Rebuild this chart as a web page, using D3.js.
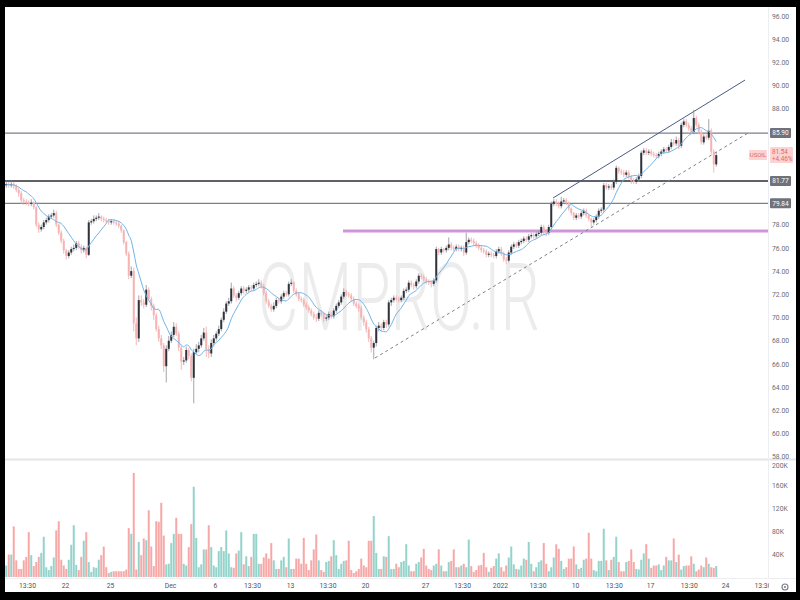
<!DOCTYPE html>
<html><head><meta charset="utf-8">
<script src="https://cdnjs.cloudflare.com/ajax/libs/d3/7.8.5/d3.min.js"></script>
<style>html,body{margin:0;padding:0;background:#000;}svg{display:block;}</style>
</head><body>
<svg id="c" width="800" height="600"></svg>
<script>
// ---- DATA (4H candles, USOIL, Nov 16 2021 -> Jan 21 2022) ----
const opens = [
81.4,81.5,81.4,81.5,81.3,81.0, 80.7,80.1,80.0,79.9,79.8,79.9, 79.5,78.0,77.6,77.8,78.2,78.4, 78.7,78.8,79.0,78.0,77.3,76.6,
75.8,75.3,75.6,75.9,76.0,76.4, 76.1,75.8,76.0,75.4,78.2,78.3, 78.5,78.6,78.7,78.5,78.4,78.3, 78.2,78.3,78.2,78.1,77.9,77.5,
76.5,75.5,73.6,74.0,69.5,68.2, 71.5,71.3,71.1,72.4,71.6,71.0, 70.2,69.0,68.2,67.6,65.8,67.3, 68.0,68.5,69.2,68.6,67.4,66.2,
66.3,67.2,66.7,64.8,67.0,67.3, 67.6,68.2,68.7,67.3,66.9,67.8, 68.2,68.6,69.0,69.8,70.5,71.2, 71.4,72.5,71.9,71.7,72.1,72.5,
72.3,72.4,72.6,72.5,72.8,72.9, 73.0,72.7,72.1,71.4,71.0,70.7, 71.0,71.5,71.4,71.8,72.1,72.0, 72.9,73.0,72.3,72.0,71.6,71.5,
71.1,70.9,70.6,70.3,70.0,69.9, 70.4,70.3,69.9,70.0,70.3,70.1, 70.6,71.0,71.3,71.8,72.2,72.0, 71.9,71.6,71.2,71.0,70.8,70.0,
69.6,69.0,68.2,67.4,67.8,69.1, 69.3,69.1,69.6,69.4,71.3,71.5, 71.7,71.6,71.5,71.7,72.3,72.4, 73.0,72.8,72.7,73.1,73.6,73.5,
73.3,73.1,73.0,72.9,73.2,75.9, 75.6,75.9,75.8,76.0,76.3,76.0, 75.9,76.1,75.9,76.0,75.6,76.5, 76.7,76.6,76.4,76.2,76.0,75.8,
75.7,75.4,75.5,75.4,75.3,75.7, 75.9,75.5,75.0,74.9,75.6,76.1, 76.3,76.2,76.5,76.6,76.8,76.7, 77.0,77.1,77.0,77.2,77.3,77.8,
77.4,77.3,77.8,79.8,80.0,79.8, 79.6,80.0,80.1,79.9,79.4,79.0, 78.6,78.8,78.7,79.0,79.2,78.8, 78.5,78.2,78.4,78.7,79.2,79.3,
81.4,81.2,81.3,81.2,81.7,82.9, 82.6,82.5,82.3,82.5,82.1,81.8, 81.7,81.9,82.2,84.2,84.4,84.2, 84.3,84.1,84.0,83.9,84.1,84.3,
84.5,84.4,84.7,85.1,85.0,85.3, 84.8,86.6,86.9,86.6,86.3,86.0, 87.2,86.6,86.0,85.1,85.6,85.5, 86.1,84.3,83.2];
const highs = [
81.8,81.7,81.8,81.7,81.5,81.2, 80.9,80.3,80.2,80.1,80.2,80.0, 79.6,78.2,78.0,78.4,78.6,78.9, 79.0,79.3,79.2,78.1,77.5,76.8,
75.9,75.8,76.1,76.3,76.6,76.6, 76.3,76.2,76.1,78.4,78.5,78.8, 78.8,79.0,78.8,78.7,78.6,78.5, 78.5,78.5,78.4,78.3,78.0,77.6,
76.6,75.7,74.4,74.3,70.0,71.9, 71.9,71.6,72.8,72.6,71.8,71.2, 70.4,69.3,68.5,67.8,67.6,68.4, 68.8,69.6,69.5,68.8,67.6,66.6,
67.5,67.4,66.9,67.3,67.7,67.9, 68.5,69.1,69.2,67.6,68.1,68.5, 68.8,69.3,70.0,70.8,71.4,71.7, 73.0,72.7,72.1,72.3,72.7,72.7,
72.6,72.8,72.8,73.0,73.1,73.3, 73.2,72.9,72.3,71.6,71.2,71.3, 71.7,71.7,72.0,72.3,72.3,73.1, 73.3,73.1,72.5,72.2,71.8,71.7,
71.3,71.1,70.8,70.5,70.3,70.6, 70.6,70.5,70.2,70.5,70.5,70.8, 71.2,71.5,72.0,72.5,72.4,72.2, 72.1,71.8,71.4,71.2,71.0,70.2,
69.8,69.2,68.4,68.0,69.3,69.6, 69.5,69.8,69.8,71.5,71.7,71.9, 71.9,71.8,71.9,72.5,72.6,73.2, 73.2,73.0,73.3,73.8,73.8,73.7,
73.5,73.3,73.2,73.4,76.1,76.0, 76.1,76.0,76.2,76.9,76.5,76.2, 76.3,76.3,76.2,76.2,77.3,76.9, 76.9,76.8,76.6,76.4,76.2,76.0,
75.9,75.7,75.7,75.6,75.9,76.1, 76.1,75.7,75.2,75.8,76.3,76.5, 76.5,76.7,76.8,77.0,77.0,77.2, 77.3,77.3,77.4,77.5,78.0,78.0,
77.6,78.0,80.0,80.2,80.2,80.0, 80.4,80.3,80.3,80.0,79.5,79.1, 79.0,79.0,79.2,79.4,79.4,78.9, 78.6,78.6,78.9,79.4,79.5,81.6,
81.6,81.5,81.5,81.9,83.1,83.0, 82.8,82.7,82.7,82.7,82.3,82.0, 82.1,82.4,84.4,84.6,84.6,84.5, 84.5,84.3,84.2,84.3,84.5,84.7,
84.7,84.9,85.4,85.4,85.6,85.5, 86.8,87.1,87.1,86.8,86.5,87.9, 87.4,86.8,86.2,85.8,85.8,87.1, 86.3,84.5,84.3];
const lows = [
81.2,81.2,81.2,81.1,80.8,80.4, 79.8,79.7,79.7,79.6,79.6,79.3, 77.8,77.3,77.4,77.6,78.0,78.2, 78.5,78.6,77.8,77.1,76.4,75.5,
75.0,75.1,75.4,75.7,75.8,75.9, 75.5,75.6,75.1,75.3,78.0,78.1, 78.3,78.4,78.3,78.2,78.1,78.0, 78.0,78.0,77.9,77.7,77.3,76.3,
75.3,73.3,73.4,68.8,67.6,67.9, 71.0,70.8,70.9,71.4,70.6,69.8, 68.8,67.9,67.3,65.3,64.4,67.1, 67.8,68.3,68.4,67.1,65.5,65.9,
66.1,66.4,64.5,62.6,66.8,67.0, 67.4,68.0,66.6,66.5,66.6,67.5, 68.0,68.4,68.8,69.6,70.3,71.0, 71.2,71.7,71.4,71.5,71.9,72.0,
72.1,72.2,72.3,72.3,72.6,72.7, 72.5,71.9,71.2,70.8,70.5,70.5, 70.8,71.2,71.2,71.6,71.8,71.8, 72.7,72.1,71.8,71.4,71.3,70.9,
70.7,70.4,70.1,69.8,69.6,69.7, 70.1,69.6,69.7,69.8,69.9,69.9, 70.4,70.8,71.1,71.6,71.8,71.7, 71.4,71.0,70.8,70.5,69.8,69.3,
68.7,67.9,67.0,66.4,67.5,68.8, 68.8,68.9,69.1,69.2,71.0,71.3, 71.4,71.3,71.3,71.5,72.1,72.2, 72.6,72.4,72.5,72.9,73.3,73.1,
72.9,72.8,72.6,72.7,73.0,75.4, 75.4,75.6,75.6,75.8,75.8,75.7, 75.7,75.7,75.7,75.3,75.4,76.3, 76.4,76.2,76.0,75.8,75.6,75.5,
75.2,75.2,75.2,75.1,75.1,75.5, 75.3,74.8,74.6,74.7,75.4,75.9, 76.0,76.0,76.3,76.4,76.5,76.5, 76.8,76.8,76.8,77.0,77.1,77.1,
77.0,77.1,77.6,79.6,79.6,79.4, 79.4,79.8,79.7,79.2,78.8,78.4, 78.4,78.5,78.5,78.8,78.6,78.3, 77.8,78.0,78.2,78.5,79.0,79.1,
81.0,81.0,81.0,81.0,81.5,82.4, 82.3,82.1,82.1,81.9,81.5,81.5, 81.5,81.7,82.0,84.0,84.0,84.0, 83.9,83.8,83.7,83.7,83.9,84.1,
84.2,84.2,84.5,84.8,84.8,84.5, 84.6,86.4,86.4,86.1,85.8,85.8, 86.4,85.8,84.9,84.9,85.3,85.3, 84.1,82.5,83.0];
const closes = [
81.5,81.4,81.5,81.3,81.0,80.7, 80.1,80.0,79.9,79.8,79.9,79.5, 78.0,77.6,77.8,78.2,78.4,78.7, 78.8,79.0,78.0,77.3,76.6,75.8,
75.3,75.6,75.9,76.0,76.4,76.1, 75.8,76.0,75.4,78.2,78.3,78.5, 78.6,78.7,78.5,78.4,78.3,78.2, 78.3,78.2,78.1,77.9,77.5,76.5,
75.5,73.6,74.0,69.5,68.2,71.5, 71.3,71.1,72.4,71.6,71.0,70.2, 69.0,68.2,67.6,65.8,67.3,68.0, 68.5,69.2,68.6,67.4,66.2,66.3,
67.2,66.7,64.8,67.0,67.3,67.6, 68.2,68.7,67.3,66.9,67.8,68.2, 68.6,69.0,69.8,70.5,71.2,71.4, 72.5,71.9,71.7,72.1,72.5,72.3,
72.4,72.6,72.5,72.8,72.9,73.0, 72.7,72.1,71.4,71.0,70.7,71.0, 71.5,71.4,71.8,72.1,72.0,72.9, 73.0,72.3,72.0,71.6,71.5,71.1,
70.9,70.6,70.3,70.0,69.9,70.4, 70.3,69.9,70.0,70.3,70.1,70.6, 71.0,71.3,71.8,72.2,72.0,71.9, 71.6,71.2,71.0,70.8,70.0,69.6,
69.0,68.2,67.4,67.8,69.1,69.3, 69.1,69.6,69.4,71.3,71.5,71.7, 71.6,71.5,71.7,72.3,72.4,73.0, 72.8,72.7,73.1,73.6,73.5,73.3,
73.1,73.0,72.9,73.2,75.9,75.6, 75.9,75.8,76.0,76.3,76.0,75.9, 76.1,75.9,76.0,75.6,76.5,76.7, 76.6,76.4,76.2,76.0,75.8,75.7,
75.4,75.5,75.4,75.3,75.7,75.9, 75.5,75.0,74.9,75.6,76.1,76.3, 76.2,76.5,76.6,76.8,76.7,77.0, 77.1,77.0,77.2,77.3,77.8,77.4,
77.3,77.8,79.8,80.0,79.8,79.6, 80.0,80.1,79.9,79.4,79.0,78.6, 78.8,78.7,79.0,79.2,78.8,78.5, 78.2,78.4,78.7,79.2,79.3,81.4,
81.2,81.3,81.2,81.7,82.9,82.6, 82.5,82.3,82.5,82.1,81.8,81.7, 81.9,82.2,84.2,84.4,84.2,84.3, 84.1,84.0,83.9,84.1,84.3,84.5,
84.4,84.7,85.1,85.0,85.3,84.8, 86.6,86.9,86.6,86.3,86.0,87.2, 86.6,86.0,85.1,85.6,85.5,86.1, 84.3,83.2,84.0];
// volume in thousands
const volumes = [
20,39,39,88,29,14,14,29,35, 78,38,19,26,35,42,70,17,12, 19,34,81,97,30,20,14,30,56,90, 21,12,35,63,78,26,9,17,16,
30,38,53,17,7,9,10,10,10,10,10, 13,85,75,181,13,61,38,67,64,116, 53,19,97,96,129,72,22,23,59, 75,103,75,75,23,20,52,92,157,68,
17,22,48,48,90,52,20,17,45, 52,45,81,41,17,16,41,46,78,22, 36,19,35,75,75,23,23,34,41, 32,59,29,14,14,29,35,17,67,14,
14,32,32,23,68,23,12,29, 48,74,29,12,9,26,28,36,64,38, 14,23,28,29,63,12,7,10,14, 32,20,17,63,63,106,42,14, 14,36,35,71,14,14,23,17,
26,28,57,20,10,10,23,26,34,49, 20,14,12,20,23,48,20,10,10,26, 28,48,17,17,20,23,17,65,19, 9,12,20,21,42,17,9,16,19,32,
41,17,10,20,34,53,22,14,13, 20,32,30,61,23,10,17,26,29,59, 23,10,17,34,57,49,28,14,17,32, 32,53,22,14,16,30,32,77,32,12,
10,28,28,84,29,12,30,35,70, 26,10,10,26,28,48,26,14,13,30, 41,57,32,16,20,20,22,12,20, 35,29,29,67,26,39,13,19,20,20,
36,23,10,13,20,17,34,23,17,16,19];
const priceTicks = [58,60,62,64,66,68,70,72,74,76,78,80,82,84,86,88,90,92,94,96];
const volumeTicks = [40,80,120,160,200];
const timeLabels = ["13:30","22","25","Dec","6","13:30","13","13:30","20","27","13:30","2022","13:30","10","13:30","17","13:30","24","13:30"];
const timeTickBars = [8.8,24,42,66,84,98.8,114,129,144,168,182.8,198,213,228,243.5,258,273.5,288,303];
const levelPrices = [85.90, 81.77, 79.84];
const levelLabels = ["85.90","81.77","79.84"];
const supportPrice = 77.46, supportStartBar = 134.7;
const upperChannel = [[218.7, 80.3],[295.5, 90.47]];
const lowerChannel = [[147.5, 66.51],[296.7, 85.9]];
const lastPriceText = ["81.54","+4.46%"];
const symbolName = "USOIL";
const watermarkText = "CMPRO.IR";
const maPeriod = 9;

// ---- LAYOUT ----
const svg = d3.select("#c");
const L = 5, R = 768, PT = 7, PB = 458, VT = 461, VB = 578;
const FONT = "Roboto, 'Noto Sans', sans-serif";
svg.append("rect").attr("width",800).attr("height",600).attr("fill","#000");
svg.append("rect").attr("x",5).attr("y",7).attr("width",791).attr("height",585).attr("fill","#fff");

const x = d3.scaleLinear().domain([-0.5, 304.3]).range([L, 767]);
const yP = d3.scaleLinear().domain([58, 96]).range([456.7, 15.9]);
const yV = d3.scaleLinear().domain([0, 200]).range([577, 462]);

const defs = svg.append("defs");
defs.append("clipPath").attr("id","cp").append("rect").attr("x",L).attr("y",PT).attr("width",R-L).attr("height",PB-PT);
defs.append("clipPath").attr("id","cv").append("rect").attr("x",L).attr("y",VT).attr("width",R-L).attr("height",VB-VT);
defs.append("clipPath").attr("id","cva").append("rect").attr("x",R).attr("y",VT).attr("width",30).attr("height",VB-VT);
defs.append("clipPath").attr("id","ct").append("rect").attr("x",L).attr("y",VB).attr("width",R+1-L).attr("height",14);

// watermark
svg.append("text").attr("x",399).attr("y",330).attr("text-anchor","middle")
  .attr("font-family",FONT).attr("font-weight",300).attr("font-size",95)
  .attr("textLength",282).attr("lengthAdjust","spacingAndGlyphs")
  .attr("fill","#ececec").text(watermarkText);

// separators
svg.append("line").attr("x1",L).attr("x2",796).attr("y1",459.5).attr("y2",459.5).attr("stroke","#e3e5ea").attr("stroke-width",2);
svg.append("line").attr("x1",R+0.5).attr("x2",R+0.5).attr("y1",PT).attr("y2",VB).attr("stroke","#eceef2").attr("stroke-width",1);
svg.append("line").attr("x1",L).attr("x2",796).attr("y1",VB+0.5).attr("y2",VB+0.5).attr("stroke","#eceef2").attr("stroke-width",1);

const gP = svg.append("g").attr("clip-path","url(#cp)");

// horizontal levels
gP.selectAll("line.lvl").data(levelPrices).join("line").attr("class","lvl")
  .attr("x1",L).attr("x2",R).attr("y1",d=>yP(d)).attr("y2",d=>yP(d))
  .attr("stroke",(d,i)=> i===1 ? "#5f626b" : "#7d8089").attr("stroke-width",(d,i)=> i===1 ? 2 : 1.3);
gP.append("line").attr("x1",x(supportStartBar)).attr("x2",R).attr("y1",yP(supportPrice)).attr("y2",yP(supportPrice))
  .attr("stroke","#cf96da").attr("stroke-width",3);

// channel lines
gP.append("line").attr("x1",x(upperChannel[0][0])).attr("y1",yP(upperChannel[0][1]))
  .attr("x2",x(upperChannel[1][0])).attr("y2",yP(upperChannel[1][1])).attr("stroke","#4b5a86").attr("stroke-width",1);
gP.append("line").attr("x1",x(lowerChannel[0][0])).attr("y1",yP(lowerChannel[0][1]))
  .attr("x2",x(lowerChannel[1][0])).attr("y2",yP(lowerChannel[1][1])).attr("stroke","#7d818d").attr("stroke-width",1).attr("stroke-dasharray","3,3");

// candles
const idx = d3.range(closes.length);
const up = i => closes[i] >= opens[i];
gP.selectAll("line.wick").data(idx).join("line").attr("class","wick")
  .attr("x1",i=>x(i)).attr("x2",i=>x(i)).attr("y1",i=>yP(highs[i])).attr("y2",i=>yP(lows[i]))
  .attr("stroke",i=> up(i) ? "#8c8f98" : "#f2a3a3").attr("stroke-width",0.8);
gP.selectAll("rect.body").data(idx).join("rect").attr("class","body")
  .attr("x",i=>x(i)-1).attr("width",2)
  .attr("y",i=>yP(Math.max(opens[i],closes[i])))
  .attr("height",i=>Math.max(1,Math.abs(yP(opens[i])-yP(closes[i]))))
  .attr("fill",i=> up(i) ? "#2f323b" : "#f6b3b3");

// moving average
const ma = closes.map((c,i)=> d3.mean(closes.slice(Math.max(0,i-maPeriod+1), i+1)));
gP.append("path").datum(idx).attr("fill","none").attr("stroke","#6fb4ea").attr("stroke-width",1)
  .attr("d", d3.line().x(i=>x(i)).y(i=>yP(ma[i])).curve(d3.curveMonotoneX));

// volume
const gV = svg.append("g").attr("clip-path","url(#cv)");
gV.selectAll("rect").data(idx).join("rect")
  .attr("x",i=>x(i)-1).attr("width",2)
  .attr("y",i=>yV(volumes[i])).attr("height",i=>yV(0)-yV(volumes[i]))
  .attr("fill",i=> up(i) ? "#94d3cc" : "#f6a8a6");

// price axis labels
const boxYs = levelPrices.map(p=>yP(p)).concat([yP(closes[closes.length-1])]);
const visTicks = priceTicks.filter(t => boxYs.every(b => Math.abs(yP(t)-b) > 9));
const pAxis = svg.append("g").attr("transform",`translate(${R+3},0)`)
  .call(d3.axisRight(yP).tickValues(visTicks).tickFormat(d3.format(".2f")).tickSize(0).tickPadding(1));
pAxis.select(".domain").remove();
pAxis.selectAll("text").attr("font-family",FONT).attr("font-size",6.8).attr("fill","#6a6d76");

// volume axis labels (top one partly hidden under the pane divider)
const vAxis = svg.append("g").attr("clip-path","url(#cva)").append("g").attr("transform",`translate(${R+3},0)`)
  .call(d3.axisRight(yV).tickValues(volumeTicks).tickFormat(d=>d+"K").tickSize(0).tickPadding(1));
vAxis.select(".domain").remove();
vAxis.selectAll("text").attr("font-family",FONT).attr("font-size",6.8).attr("fill","#6a6d76")
  .attr("dy",(d)=> d===200 ? "0.75em" : "0.32em");

// time axis
const tAxis = svg.append("g").attr("clip-path","url(#ct)").append("g").attr("transform",`translate(0,${VB})`)
  .call(d3.axisBottom(x).tickValues(timeTickBars.map(v=>v-0.5)).tickFormat((d,i)=>timeLabels[i]).tickSize(0).tickPadding(5));
tAxis.select(".domain").remove();
tAxis.selectAll("text").attr("font-family",FONT).attr("font-size",6.8).attr("fill","#4f525b");

// gear icon
const gear = svg.append("g").attr("transform","translate(785,587)");
gear.append("circle").attr("r",3).attr("fill","none").attr("stroke","#777a83").attr("stroke-width",1.1);
gear.append("circle").attr("r",1).attr("fill","#777a83");

// level boxes
const gb = svg.selectAll("g.lb").data(levelPrices).join("g").attr("class","lb")
  .attr("transform",d=>`translate(${R+2},${yP(d)})`);
gb.append("rect").attr("x",0).attr("y",-5).attr("width",21).attr("height",10).attr("rx",1).attr("fill","#6f727c");
gb.append("text").attr("x",10.5).attr("y",2.3).attr("text-anchor","middle").attr("font-family",FONT)
  .attr("font-size",6.5).attr("fill","#fff").text((d,i)=>levelLabels[i]);

// last price box
const yl = yP(closes[closes.length-1]);
svg.append("rect").attr("x",R+2).attr("y",yl-8).attr("width",23).attr("height",16).attr("rx",1).attr("fill","#fbd3d3");
svg.selectAll("text.lp").data(lastPriceText).join("text").attr("class","lp")
  .attr("x",R+4).attr("y",(d,i)=>yl-1.5+i*7).attr("font-family",FONT).attr("font-size",6.3)
  .attr("fill","#e06a6a").text(d=>d);
svg.append("rect").attr("x",749).attr("y",yl-5).attr("width",18).attr("height",10).attr("rx",1).attr("fill","#fbd3d3");
svg.append("text").attr("x",758).attr("y",yl+2.2).attr("text-anchor","middle").attr("font-family",FONT)
  .attr("font-size",6).attr("fill","#e06a6a").text(symbolName);
</script>
</body></html>
